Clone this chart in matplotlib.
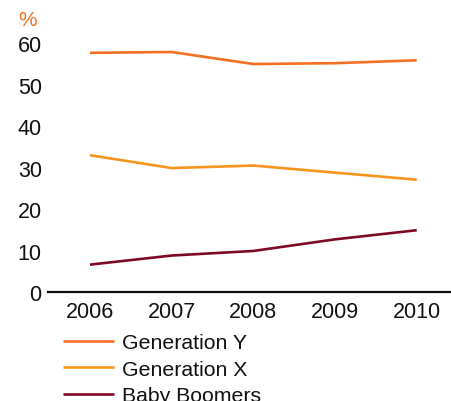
import matplotlib
matplotlib.use("Agg")
import matplotlib.pyplot as plt

years = ["2006", "2007", "2008", "2009", "2010"]
gen_y = [57.7, 57.9, 55.0, 55.2, 55.9]
gen_x = [33.0, 29.9, 30.5, 28.8, 27.1]
boomers = [6.6, 8.8, 9.9, 12.7, 14.9]
series_names = ["Generation Y", "Generation X", "Baby Boomers"]
colors = ["#F36F21", "#F7941D", "#7D0A22"]

plt.rcParams["font.family"] = ["Liberation Sans", "DejaVu Sans"]

fig = plt.figure(figsize=(4.51, 4.02), dpi=100)
W, H = 451, 402
ax = fig.add_axes([48 / W, 1 - 293 / H, (W - 48) / W, (293 - 36) / H])

x = list(range(len(years)))
handles = []
for vals, name, c in zip([gen_y, gen_x, boomers], series_names, colors):
    h, = ax.plot(x, vals, color=c, lw=1.9, label=name, solid_capstyle="butt")
    handles.append(h)

ax.set_xlim(-0.514, 4.42)
ax.set_ylim(0, 62)
ax.set_yticks([0, 10, 20, 30, 40, 50, 60])
ax.set_xticks(x)
ax.set_xticklabels(years)
ax.tick_params(axis="both", length=0, labelsize=15.5, colors="#111111")
ax.tick_params(axis="y", pad=4.5)
ax.tick_params(axis="x", pad=6.5)
for s in ["left", "right", "top"]:
    ax.spines[s].set_visible(False)
ax.spines["bottom"].set_linewidth(1.6)
ax.spines["bottom"].set_color("#111111")

fig.text(18 / W, 1 - 20 / H, "%", color="#F36F21", fontsize=15, va="center", ha="left")

fig.legend(handles=handles, labels=series_names, loc="upper left",
           bbox_to_anchor=(63 / W, 1 - 334.5 / H), frameon=False, fontsize=15.3,
           handlelength=2.4, handletextpad=0.38, borderpad=0, borderaxespad=0,
           labelspacing=0.34, labelcolor="#111111")

fig.savefig("out.png", dpi=100)
